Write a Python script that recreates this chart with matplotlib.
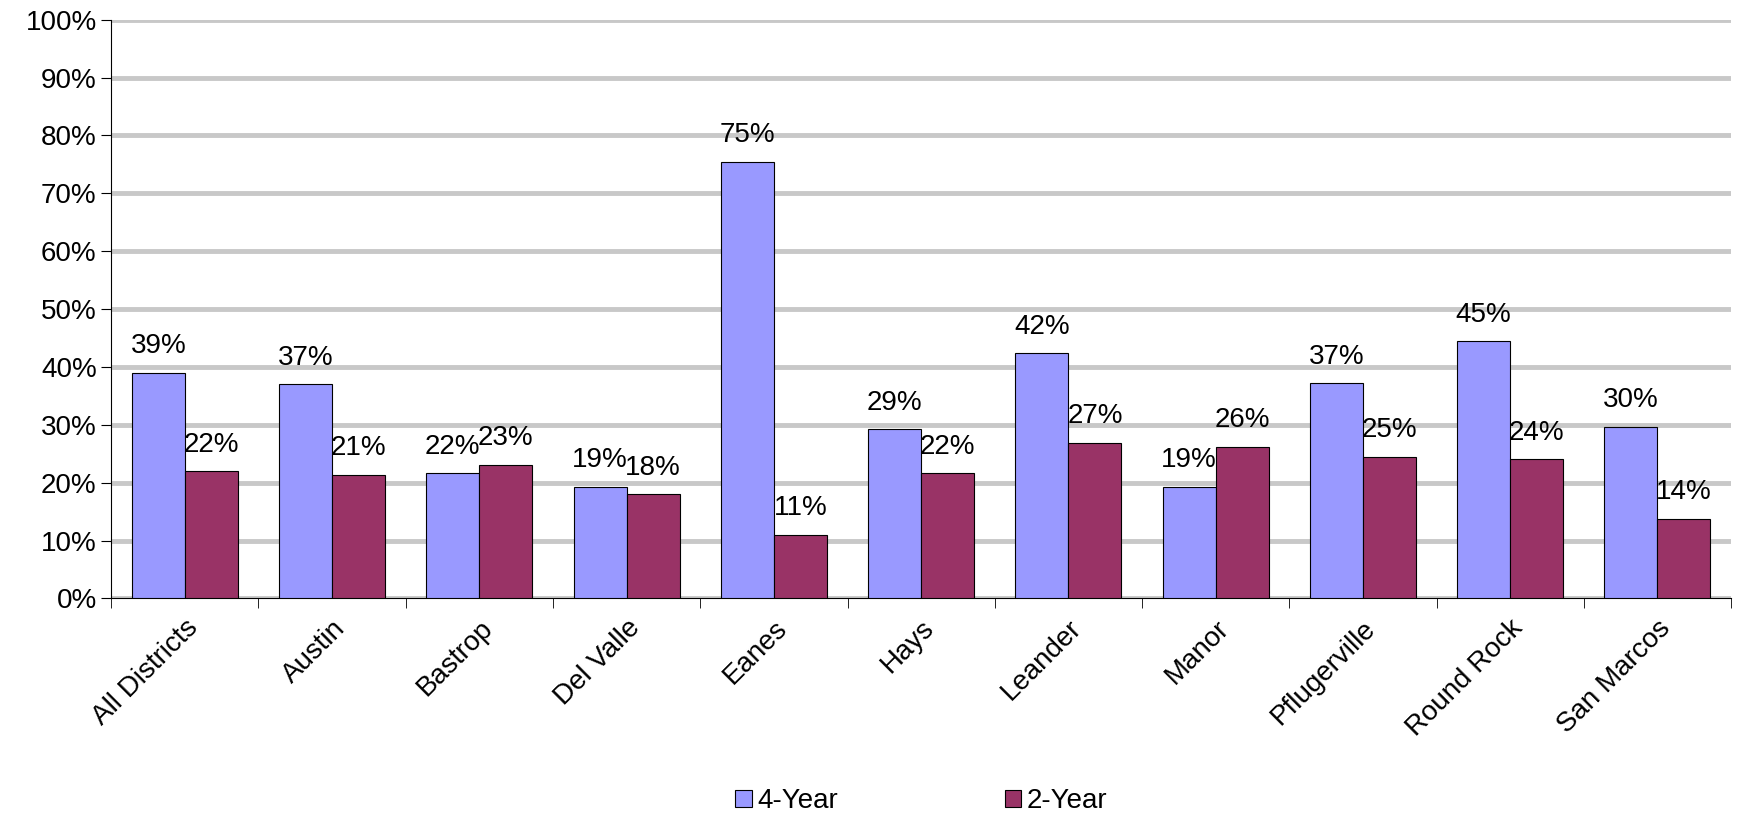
import numpy as np
import matplotlib
matplotlib.use("Agg")
import matplotlib.pyplot as plt
from matplotlib.ticker import FixedLocator, NullFormatter

plt.rcParams["font.family"] = ["Liberation Sans", "DejaVu Sans"]

districts = ["All Districts", "Austin", "Bastrop", "Del Valle", "Eanes", "Hays",
             "Leander", "Manor", "Pflugerville", "Round Rock", "San Marcos"]
four_year = [39.0, 37.0, 21.7, 19.3, 75.5, 29.3, 42.4, 19.3, 37.2, 44.5, 29.7]
two_year = [22.0, 21.4, 23.1, 18.0, 11.0, 21.7, 26.9, 26.2, 24.5, 24.1, 13.8]
four_labels = ["39%", "37%", "22%", "19%", "75%", "29%", "42%", "19%", "37%", "45%", "30%"]
two_labels = ["22%", "21%", "23%", "18%", "11%", "22%", "27%", "26%", "25%", "24%", "14%"]

FS = 20

fig = plt.figure(figsize=(17.38, 8.22), dpi=100)
ax = fig.add_axes([0.064, 0.272, 0.932, 0.704])

x = np.arange(len(districts))
w = 0.36
b1 = ax.bar(x - w / 2, four_year, w, color="#9999FF", edgecolor="black", linewidth=0.8, label="4-Year", zorder=3)
b2 = ax.bar(x + w / 2, two_year, w, color="#993366", edgecolor="black", linewidth=0.8, label="2-Year", zorder=3)

for rect, lab in zip(b1, four_labels):
    ax.text(rect.get_x() + rect.get_width() / 2, rect.get_height() + 2.3, lab,
            ha="center", va="bottom", fontsize=FS)
for rect, lab in zip(b2, two_labels):
    ax.text(rect.get_x() + rect.get_width() / 2, rect.get_height() + 2.3, lab,
            ha="center", va="bottom", fontsize=FS)

ax.set_xlim(-0.5, len(districts) - 0.5)
ax.set_ylim(0, 100)
ax.set_yticks(range(0, 101, 10))
ax.set_yticklabels([f"{v}%" for v in range(0, 101, 10)], fontsize=FS)
ax.yaxis.grid(True, color="#C8C8C8", linewidth=3.5, zorder=0)
ax.set_axisbelow(True)

ax.set_xticks(x)
ax.set_xticklabels(districts, rotation=45, ha="right", rotation_mode="anchor", fontsize=FS)
ax.tick_params(axis="x", length=0, pad=12)
ax.xaxis.set_minor_locator(FixedLocator(np.arange(-0.5, len(districts), 1)))
ax.xaxis.set_minor_formatter(NullFormatter())
ax.tick_params(axis="x", which="minor", length=7, direction="out")
ax.tick_params(axis="y", length=7, direction="out")

for s in ["top", "right"]:
    ax.spines[s].set_visible(False)

fig.legend(handles=[b1, b2], loc="center", bbox_to_anchor=(0.53, 0.025), ncol=2,
           frameon=False, fontsize=FS, handlelength=0.6, handleheight=0.6,
           columnspacing=6, handletextpad=0.2)

fig.savefig("out.png", dpi=100)
